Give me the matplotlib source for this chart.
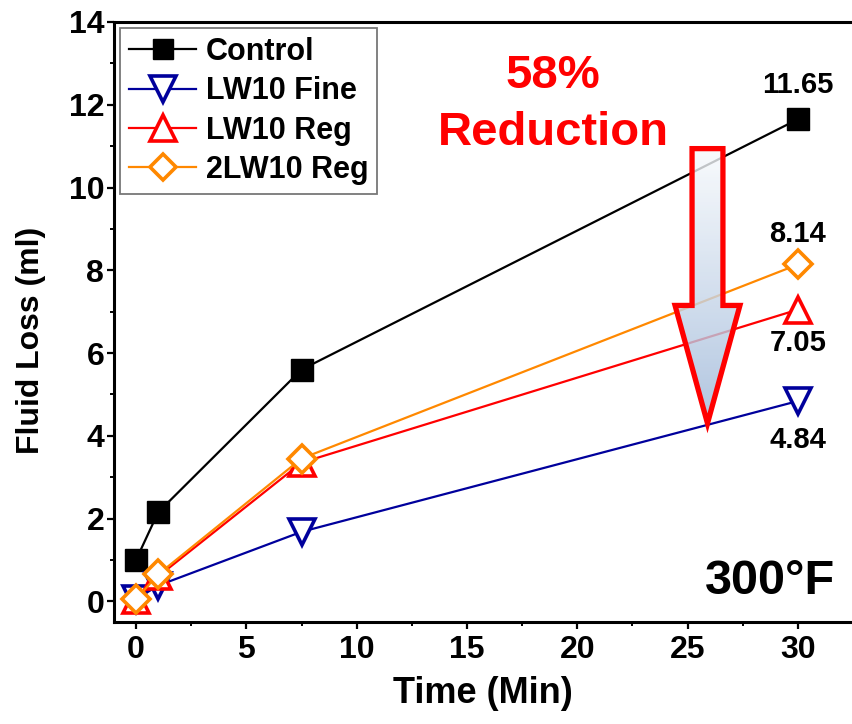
import matplotlib
matplotlib.use("Agg")
import matplotlib.pyplot as plt
import numpy as np
from matplotlib import font_manager
from matplotlib.patches import Polygon
from matplotlib.ticker import MultipleLocator

names = {f.name for f in font_manager.fontManager.ttflist}
NARROW = "Liberation Sans Narrow" if "Liberation Sans Narrow" in names else "Liberation Sans"
SANS = "Liberation Sans"

time_min = [0, 1, 7.5, 30]
control = [1.0, 2.15, 5.6, 11.65]
lw10_fine = [0.05, 0.38, 1.68, 4.84]
lw10_reg = [0.02, 0.6, 3.35, 7.05]
lw2_reg = [0.05, 0.65, 3.45, 8.14]

series_labels = ["Control", "LW10 Fine", "LW10 Reg", "2LW10 Reg"]
end_labels = ["11.65", "4.84", "7.05", "8.14"]
x_ticks = [0, 5, 10, 15, 20, 25, 30]
y_ticks = [0, 2, 4, 6, 8, 10, 12, 14]

W, H = 852, 724
fig = plt.figure(figsize=(W / 100, H / 100), dpi=100)
ax = fig.add_axes([114 / W, 1 - 622 / H, 1 - 114 / W, (622 - 22) / H])
ax.set_xlim(-1.0, 32.45)
ax.set_ylim(-0.5, 14)

lw = 1.6
mew = 2.6
ax.plot(time_min, control, color="black", lw=lw, marker="s", ms=15.5,
        mfc="black", mec="black", label=series_labels[0], zorder=3)
ax.plot(time_min, lw10_fine, color="#00009c", lw=lw, marker="v", ms=19,
        mfc="white", mec="#00009c", mew=mew, label=series_labels[1], zorder=3)
ax.plot(time_min, lw10_reg, color="#ff0000", lw=lw, marker="^", ms=19,
        mfc="white", mec="#ff0000", mew=mew, label=series_labels[2], zorder=3)
ax.plot(time_min, lw2_reg, color="#ff8800", lw=lw, marker="D", ms=14,
        mfc="white", mec="#ff8800", mew=mew, label=series_labels[3], zorder=3)

# end-point value labels
lab_font = dict(family=SANS, weight="bold", fontsize=21, color="black",
                ha="center", va="center")
ax.annotate(end_labels[0], (time_min[-1], control[-1]), xytext=(0, 25),
            textcoords="offset points", **lab_font)
ax.annotate(end_labels[3], (time_min[-1], lw2_reg[-1]), xytext=(0, 22),
            textcoords="offset points", **lab_font)
ax.annotate(end_labels[2], (time_min[-1], lw10_reg[-1]), xytext=(0, -24),
            textcoords="offset points", **lab_font)
ax.annotate(end_labels[1], (time_min[-1], lw10_fine[-1]), xytext=(0, -28),
            textcoords="offset points", **lab_font)

# big arrow
cx = 25.9
sh = 0.70
hh = 1.47
top = 10.94
base = 7.15
tip = 4.3
verts = np.array([[cx - sh, top], [cx + sh, top], [cx + sh, base], [cx + hh, base],
                  [cx, tip], [cx - hh, base], [cx - sh, base]])
poly = Polygon(verts, closed=True, facecolor="none", edgecolor="none", zorder=4)
ax.add_patch(poly)
grad = np.linspace(0, 1, 256).reshape(-1, 1)
c_top = np.array([0.97, 0.98, 0.99])
c_bot = np.array([0.62, 0.72, 0.85])
img = c_top[None, None, :] * (1 - grad[:, :, None]) + c_bot[None, None, :] * grad[:, :, None]
im = ax.imshow(img, extent=[cx - hh, cx + hh, tip, top], origin="upper",
               aspect="auto", zorder=4, alpha=0.8)
im.set_clip_path(poly)
ax.add_patch(Polygon(verts, closed=True, facecolor="none", edgecolor="#ff0000",
                     lw=3.8, joinstyle="miter", zorder=5))

ax.text(553 / W, 1 - 76 / H, "58%", transform=fig.transFigure, color="#ff0000",
        family=SANS, weight="bold", fontsize=34, ha="center", va="center")
ax.text(553 / W, 1 - 133 / H, "Reduction", transform=fig.transFigure, color="#ff0000",
        family=SANS, weight="bold", fontsize=34, ha="center", va="center")
ax.text(770 / W, 1 - 582 / H, "300°F", transform=fig.transFigure, color="black",
        family=SANS, weight="bold", fontsize=35, ha="center", va="center")

# axes styling
for s in ["left", "bottom", "top"]:
    ax.spines[s].set_linewidth(2.2)
ax.spines["right"].set_visible(False)
ax.xaxis.set_major_locator(MultipleLocator(5))
ax.xaxis.set_minor_locator(MultipleLocator(2.5))
ax.yaxis.set_major_locator(MultipleLocator(2))
ax.yaxis.set_minor_locator(MultipleLocator(1))
ax.set_xticks(x_ticks)
ax.set_yticks(y_ticks)
ax.tick_params(which="major", direction="out", length=5, width=1.6,
               top=False, right=False)
ax.tick_params(which="minor", direction="out", length=3, width=1.4,
               top=False, right=False)
ax.tick_params(axis="y", pad=2)
ax.tick_params(axis="x", pad=4)
for t in ax.get_xticklabels():
    t.set_fontfamily(NARROW)
    t.set_fontweight("bold")
    t.set_fontsize(23)
for t in ax.get_yticklabels():
    t.set_fontfamily(SANS)
    t.set_fontweight("bold")
    t.set_fontsize(23)

ax.set_xlabel("Time (Min)", family=NARROW, weight="bold", fontsize=26, labelpad=8)
ax.set_ylabel("Fluid Loss (ml)", family=SANS, weight="bold", fontsize=23)
ax.yaxis.set_label_coords((46 - 114) / (W - 114), (622 - 340) / 600)

leg = ax.legend(loc="upper left", bbox_to_anchor=(120 / W, 1 - 28 / H),
                bbox_transform=fig.transFigure, borderaxespad=0,
                prop=dict(family=SANS, weight="bold", size=22),
                frameon=True, fancybox=False, edgecolor="#555555",
                handlelength=2.2, handletextpad=0.3, labelspacing=0.3,
                borderpad=0.3, markerscale=0.95)
leg.get_frame().set_linewidth(1.3)
leg.set_zorder(6)

fig.savefig("out.png", dpi=100)
